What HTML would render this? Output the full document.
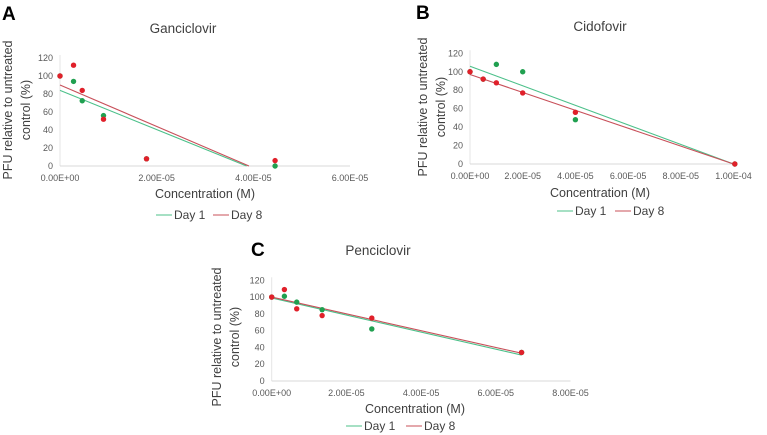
<!DOCTYPE html>
<html><head><meta charset="utf-8"><style>
body{margin:0;background:#fff;}
svg{display:block;font-family:"Liberation Sans",sans-serif;}
.tick{font-size:9px;fill:#595959;}
.ttl{font-size:13.5px;fill:#404040;}
.axt{font-size:12.5px;fill:#404040;}
.leg{font-size:12px;fill:#404040;}
.pl{font-size:19px;font-weight:bold;fill:#000;}
</style></head><body>
<svg id="fig" width="767" height="435" viewBox="0 0 767 435"></svg>
<script>
// Panel A: Ganciclovir
const aX = [0, 2.8e-6, 4.6e-6, 9.0e-6, 1.79e-5, 4.45e-5];
const aDay1 = [100, 94, 72.5, 56, 8, 0];
const aDay8 = [100, 112, 84, 52, 8, 6];
const aTrendIntercept = [84, 90];
const aTrendZero = [3.86e-5, 3.91e-5];
const aXTicks = ["0.00E+00","2.00E-05","4.00E-05","6.00E-05"];
const aXTickVals = [0, 2e-5, 4e-5, 6e-5];
// Panel B: Cidofovir
const bX = [0, 5e-6, 1e-5, 2e-5, 4e-5, 1.005e-4];
const bDay1 = [100, 92, 108, 100, 48, 0];
const bDay8 = [100, 92, 88, 77, 56, 0];
const bTrendIntercept = [106, 97];
const bTrendZero = [1.0e-4, 1.0e-4];
const bXTicks = ["0.00E+00","2.00E-05","4.00E-05","6.00E-05","8.00E-05","1.00E-04"];
const bXTickVals = [0, 2e-5, 4e-5, 6e-5, 8e-5, 1e-4];
// Panel C: Penciclovir
const cX = [0, 3.4e-6, 6.7e-6, 1.35e-5, 2.68e-5, 6.69e-5];
const cDay1 = [100, 101, 94, 85, 62, 34];
const cDay8 = [100, 109, 86, 78, 75, 34];
const cTrendIntercept = [99, 100];
const cTrendZero = [9.73e-5, 1.0e-4];
const cXTicks = ["0.00E+00","2.00E-05","4.00E-05","6.00E-05","8.00E-05"];
const cXTickVals = [0, 2e-5, 4e-5, 6e-5, 8e-5];
const yTicks = [0, 20, 40, 60, 80, 100, 120];

const NS = "http://www.w3.org/2000/svg";
const svg = document.getElementById("fig");
function mk(tag, attrs, parent, text){
  const e = document.createElementNS(NS, tag);
  for (const k in attrs) e.setAttribute(k, attrs[k]);
  if (text !== undefined) e.textContent = text;
  (parent || svg).appendChild(e);
  return e;
}
const G1 = "#20a050", R1 = "#e0202a", GL = "#4cc08a", RL = "#c8505a";

function panel(cfg){
  const g = mk("g", {});
  
  
  const sx = v => cfg.x0 + v / cfg.xMax * (cfg.x1 - cfg.x0);
  const sy = v => cfg.y0 - v / 120 * (cfg.y0 - cfg.y1);
  const lbl = mk("text", {x: cfg.lx, y: cfg.ly, class: "pl"}, g, cfg.letter);
  
  
  const t = mk("text", {x: cfg.tx, y: cfg.ty, class: "ttl", "text-anchor": "middle"}, g, cfg.title);
  
  
  const ya = mk("line", {x1: cfg.x0, y1: cfg.y1 - 3, x2: cfg.x0, y2: cfg.y0, stroke: "#e4e4e4"}, g);
  
  
  const xa = mk("line", {x1: cfg.x0, y1: cfg.y0, x2: cfg.x1, y2: cfg.y0, stroke: "#d9d9d9"}, g);
  
  
  yTicks.forEach(v => {
    const e = mk("text", {x: cfg.x0 - 7, y: sy(v) + 3, class: "tick", "text-anchor": "end"}, g, String(v));
    
    
  });
  cfg.xt.forEach((s, i) => {
    const e = mk("text", {x: sx(cfg.xv[i]), y: cfg.y0 + 15, class: "tick", "text-anchor": "middle"}, g, s);
    
    
  });
  const yt = mk("text", {class: "axt", "text-anchor": "middle", transform: `translate(${cfg.ytx},${cfg.yty}) rotate(-90)`}, g);
  
  
  mk("tspan", {x: 0, y: 0}, yt, "PFU relative to untreated");
  mk("tspan", {x: 0, y: 18}, yt, "control (%)");
  const xt = mk("text", {x: cfg.xtx, y: cfg.xty, class: "axt", "text-anchor": "middle"}, g, "Concentration (M)");
  
  
  // trend lines
  [[0, GL, "trendline-day1"], [1, RL, "trendline-day8"]].forEach(([i, c, n]) => {
    const b = cfg.ti[i], z = cfg.tz[i];
    const xe = Math.min(z, Math.max(...cfg.xs));
    const ye = b - b / z * xe;
    const l = mk("line", {x1: sx(0), y1: sy(b), x2: sx(xe), y2: sy(ye), stroke: c, "stroke-width": 1.1}, g);
    
    
  });
  cfg.xs.forEach((xv, i) => {
    const p = mk("circle", {cx: sx(xv), cy: sy(cfg.d1[i]), r: 2.7, fill: G1}, g);
    
    
  });
  cfg.xs.forEach((xv, i) => {
    const p = mk("circle", {cx: sx(xv), cy: sy(cfg.d8[i]), r: 2.7, fill: R1}, g);
    
    
  });
  // legend
  const lg = mk("g", {}, g);
  
  
  const L = cfg.leg;
  mk("line", {x1: L[0], y1: L[2], x2: L[0] + 16, y2: L[2], stroke: GL}, lg);
  const e1 = mk("text", {x: L[0] + 18, y: L[2] + 4, class: "leg"}, lg, "Day 1");
  
  
  mk("line", {x1: L[1], y1: L[2], x2: L[1] + 16, y2: L[2], stroke: RL}, lg);
  const e2 = mk("text", {x: L[1] + 18, y: L[2] + 4, class: "leg"}, lg, "Day 8");
  
  
}

panel({name: "ganciclovir-chart", letter: "A", lx: 2, ly: 20, title: "Ganciclovir", tx: 183, ty: 33,
  x0: 60, x1: 350, xMax: 6e-5, y0: 166, y1: 58, xt: aXTicks, xv: aXTickVals,
  ytx: 12, yty: 110, xtx: 205, xty: 198, xs: aX, d1: aDay1, d8: aDay8,
  ti: aTrendIntercept, tz: aTrendZero, leg: [156, 213, 215]});
panel({name: "cidofovir-chart", letter: "B", lx: 416, ly: 19, title: "Cidofovir", tx: 600, ty: 31,
  x0: 470, x1: 733.5, xMax: 1e-4, y0: 164, y1: 53.3, xt: bXTicks, xv: bXTickVals,
  ytx: 427, yty: 107, xtx: 600, xty: 197, xs: bX, d1: bDay1, d8: bDay8,
  ti: bTrendIntercept, tz: bTrendZero, leg: [557, 615, 211]});
panel({name: "penciclovir-chart", letter: "C", lx: 251, ly: 256, title: "Penciclovir", tx: 378, ty: 255,
  x0: 271.7, x1: 570.5, xMax: 8e-5, y0: 381, y1: 280.3, xt: cXTicks, xv: cXTickVals,
  ytx: 221, yty: 337, xtx: 415, xty: 413, xs: cX, d1: cDay1, d8: cDay8,
  ti: cTrendIntercept, tz: cTrendZero, leg: [346, 406, 426]});
</script>
</body></html>
